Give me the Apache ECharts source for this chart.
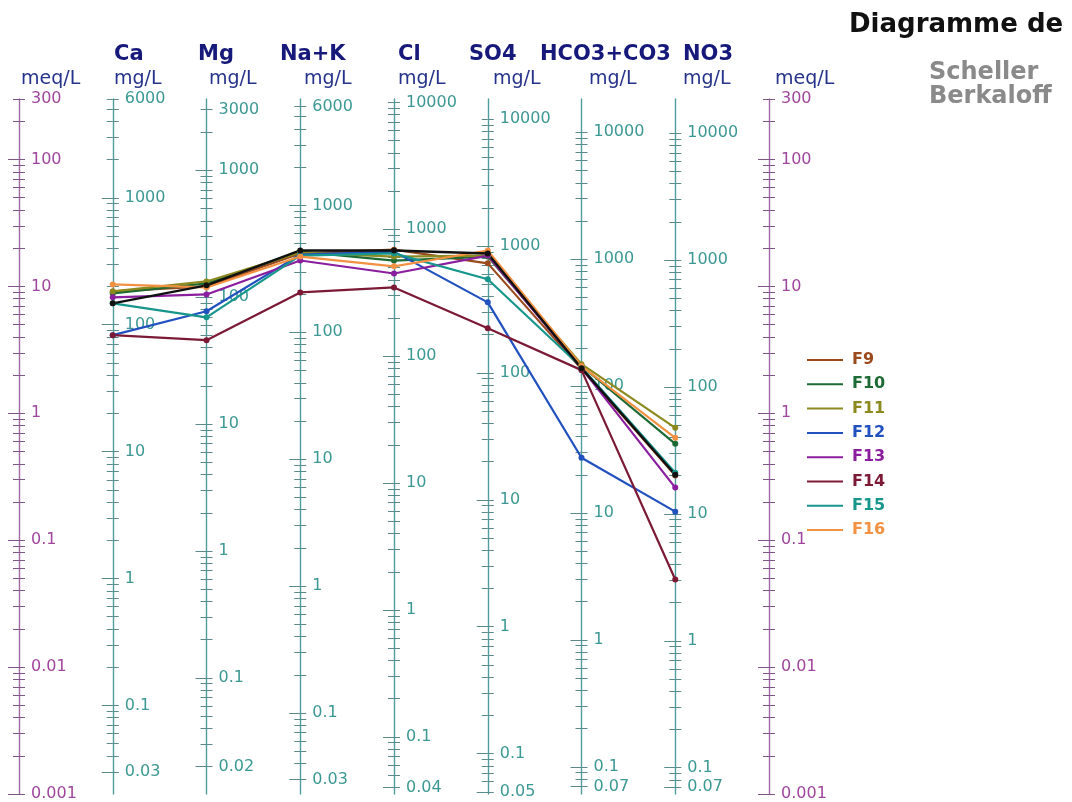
<!DOCTYPE html>
<html><head><meta charset="utf-8">
<script src="https://cdn.jsdelivr.net/npm/echarts@6/dist/echarts.min.js"></script>
<style>html,body{margin:0;padding:0;background:#fff}#c{width:1072px;height:802px}</style>
</head><body><div id="c"></div>
<script>
// ---------- DATA ----------
const ions = ['Ca', 'Mg', 'Na+K', 'Cl', 'SO4', 'HCO3+CO3', 'NO3'];
const eqWeights = [20.04, 12.15, 23.0, 35.45, 48.03, 61.02, 62.0]; // mg per meq
const meqRange = [0.001, 300];

const meqLabels  = [0.001, 0.01, 0.1, 1, 10, 100, 300];
const caLabels   = [0.03, 0.1, 1, 10, 100, 1000, 6000];
const mgLabels   = [0.02, 0.1, 1, 10, 100, 1000, 3000];
const naLabels   = [0.03, 0.1, 1, 10, 100, 1000, 6000];
const clLabels   = [0.04, 0.1, 1, 10, 100, 1000, 10000];
const so4Labels  = [0.05, 0.1, 1, 10, 100, 1000, 10000];
const hco3Labels = [0.07, 0.1, 1, 10, 100, 1000, 10000];
const no3Labels  = [0.07, 0.1, 1, 10, 100, 1000, 10000];

// meq/L values: Ca, Mg, Na+K, Cl, SO4, HCO3+CO3, NO3
const seriesNames = ['F9', 'F10', 'F11', 'F12', 'F13', 'F14', 'F15', 'F16'];
const F9  = [9.14, 10.0, 18.2, 19.5, 15.2, 2.23, 0.323];
const F10 = [8.81, 10.56, 18.8, 16.0, 17.2, 2.36, 0.575];
const F11 = [9.14, 10.95, 18.5, 17.2, 17.5, 2.44, 0.768];
const F12 = [4.13, 6.37, 17.8, 18.8, 7.49, 0.447, 0.168];
const F13 = [8.20, 8.65, 16.0, 12.65, 17.5, 2.27, 0.26];
const F14 = [4.13, 3.77, 8.97, 9.82, 4.68, 2.19, 0.049];
const F15 = [7.36, 5.71, 17.5, 18.2, 11.4, 2.31, 0.34];
const F16 = [10.37, 9.82, 17.2, 14.4, 19.2, 2.36, 0.641];
const unlabeled = [7.36, 10.2, 19.2, 19.2, 18.2, 2.27, 0.328];

// ---------- STYLE ----------
const seriesColors = ['#9a4a1c', '#1d6a34', '#8c8a1e', '#2150bf', '#8a1e9e', '#7c1a36', '#17968c', '#f39143'];
const FONT = '"DejaVu Sans", sans-serif';
const TEAL = {line: '#4f9e9e', tick: '#5a8a8a', label: '#3c9893'};
const PURP = {line: '#a068a4', tick: '#7e5688', label: '#a0469c'};

const ionLabels = [caLabels, mgLabels, naLabels, clLabels, so4Labels, hco3Labels, no3Labels];

function fmt(v) { return String(+(+v).toPrecision(6)); }
function tickValues(min, max) {
  const out = [];
  for (let k = -4; k <= 5; k++) {
    for (let n = 1; n <= 9; n++) {
      const v = +(n * Math.pow(10, k)).toPrecision(6);
      if (v >= min * 0.99999 && v <= max * 1.00001) out.push(v);
    }
  }
  return out;
}

const GRID_LEFT = 19, GRID_W = 750;
const step = GRID_W / 8;

const yAxes = [];
function addColumn(col, min, max, labels, pal) {
  const off = -col * step;
  const ticks = tickValues(min, max);
  const longTicks = labels.slice(0, -1);
  const base = {
    type: 'log', logBase: 10, min: min, max: max, position: 'left', offset: off,
    splitLine: {show: false}, minorTick: {show: false}, minorSplitLine: {show: false}
  };
  yAxes.push(Object.assign({}, base, {
    axisLine: {show: true, onZero: false, lineStyle: {color: pal.line, width: 1.4}},
    axisTick: {show: true, inside: true, length: 6, customValues: ticks, lineStyle: {color: pal.tick, width: 1}},
    axisLabel: {show: true, inside: true, margin: 12, customValues: labels, formatter: fmt,
      color: pal.label, fontSize: 16, fontFamily: FONT, showMinLabel: true, showMaxLabel: true}
  }));
  yAxes.push(Object.assign({}, base, {
    axisLine: {show: false, onZero: false},
    axisTick: {show: true, inside: false, length: 6, customValues: ticks, lineStyle: {color: pal.tick, width: 1}},
    axisLabel: {show: false}
  }));
  yAxes.push(Object.assign({}, base, {
    axisLine: {show: false, onZero: false},
    axisTick: {show: true, inside: false, length: 11, customValues: longTicks, lineStyle: {color: pal.tick, width: 1}},
    axisLabel: {show: false}
  }));
}
addColumn(0, meqRange[0], meqRange[1], meqLabels, PURP);
ions.forEach((ion, i) => {
  addColumn(i + 1, meqRange[0] * eqWeights[i], meqRange[1] * eqWeights[i], ionLabels[i], TEAL);
});
addColumn(8, meqRange[0], meqRange[1], meqLabels, PURP);

function toPoints(arr) { return arr.map((v, i) => [i + 1, v]); }

const allData = [F9, F10, F11, F12, F13, F14, F15, F16];
const series = allData.map((d, i) => ({
  name: seriesNames[i], type: 'line', xAxisIndex: 0, yAxisIndex: 0,
  data: toPoints(d), symbol: 'circle', symbolSize: 6, showSymbol: true,
  lineStyle: {color: seriesColors[i], width: 2.2}, itemStyle: {color: seriesColors[i]},
  emphasis: {disabled: true}, animation: false
}));
series.push({
  name: 'autre', type: 'line', xAxisIndex: 0, yAxisIndex: 0,
  data: toPoints(unlabeled), symbol: 'circle', symbolSize: 6,
  lineStyle: {color: '#111111', width: 2.4}, itemStyle: {color: '#111111'},
  emphasis: {disabled: true}, animation: false
});

// header texts
const headerNameX = [114, 198, 280, 398, 469, 540, 683];
const headerUnitX = [114, 209, 304, 398, 493, 589, 683];
const graphics = [];
function txt(x, y, text, font, fill) {
  graphics.push({type: 'text', x: x, y: y, silent: true,
    style: {text: text, font: font, fill: fill, align: 'left', verticalAlign: 'middle'}});
}
ions.forEach((ion, i) => {
  txt(headerNameX[i], 55, ion, 'bold 21px ' + FONT, '#16197a');
  txt(headerUnitX[i], 79, 'mg/L', '19px ' + FONT, '#26338a');
});
txt(21, 79, 'meq/L', '19px ' + FONT, '#26338a');
txt(775, 79, 'meq/L', '19px ' + FONT, '#26338a');
txt(849, 25, 'Diagramme de', 'bold 26px ' + FONT, '#111111');
txt(929, 73, 'Scheller', 'bold 24px ' + FONT, '#8a8a8a');
txt(929, 97, 'Berkaloff', 'bold 24px ' + FONT, '#8a8a8a');

const chart = echarts.init(document.getElementById('c'), null, {renderer: 'canvas'});
chart.setOption({
  animation: false,
  backgroundColor: '#ffffff',
  grid: {left: GRID_LEFT, width: GRID_W, top: 99, bottom: 4.5, containLabel: false},
  xAxis: {type: 'value', min: 0, max: 8, show: false},
  yAxis: yAxes,
  legend: {
    orient: 'vertical', left: 807, top: 352, padding: 0, icon: 'rect', itemWidth: 36, itemHeight: 2,
    itemGap: 8.3, selectedMode: false,
    textStyle: {fontFamily: FONT, fontWeight: 'bold', fontSize: 16, lineHeight: 16, padding: [0, 0, 0, 4]},
    data: seriesNames.map((n, i) => ({name: n, textStyle: {color: seriesColors[i]}}))
  },
  graphic: graphics,
  series: series
});
</script></body></html>
